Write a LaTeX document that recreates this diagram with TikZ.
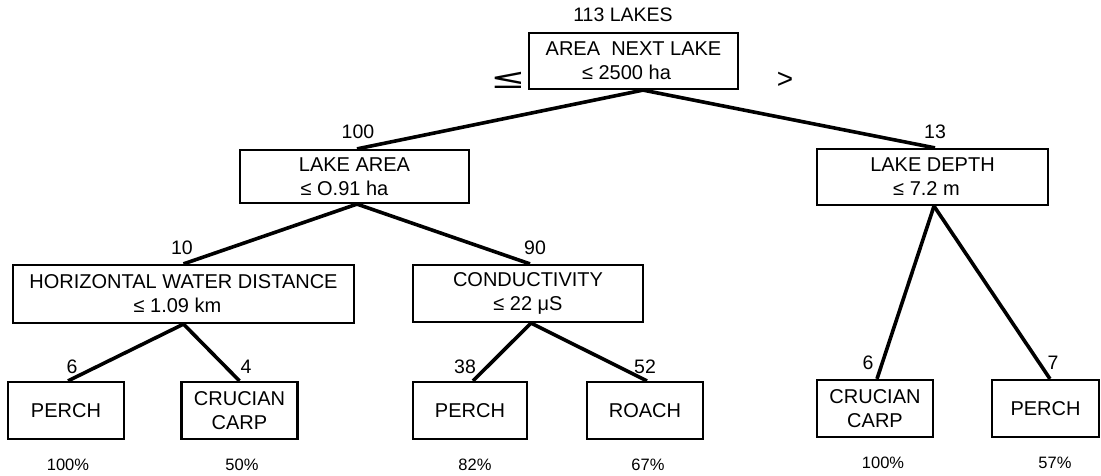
\documentclass[tikz,border=0pt]{standalone}
\usepackage{fontspec}
\usepackage{graphicx}
\setmainfont{Liberation Sans}
\newfontfamily\symfont{DejaVu Sans}
\usetikzlibrary{calc}
\newcommand\boxfont{\fontsize{20}{24}\selectfont}
\newcommand\cntfont{\fontsize{19.5}{23}\selectfont}
\newcommand\pctfont{\fontsize{16.5}{20}\selectfont}
\begin{document}
\begin{tikzpicture}[x=1pt,y=-1pt,
  box/.style={draw, line width=2.2pt, inner sep=0pt, align=center, font=\boxfont},
  leaf/.style={box, minimum width=116pt, minimum height=57pt},
  link/.style={line width=3.6pt},
  cnt/.style={inner sep=0pt, font=\cntfont},
  pct/.style={inner sep=0pt, font=\pctfont}]
\useasboundingbox (0,0) rectangle (1101,476);

% decision boxes
\node[box, minimum width=209pt, minimum height=56pt] (root) at (633.5,61) {AREA\ \ NEXT LAKE\\\hspace*{-14pt}≤ 2500 ha};
\node[box, minimum width=229pt, minimum height=53pt] (lakearea) at (354.5,176.5) {LAKE AREA\\\hspace*{-20pt}≤ O.91 ha};
\node[box, minimum width=231pt, minimum height=56pt] (lakedepth) at (932.5,177) {LAKE DEPTH\\\hspace*{-12pt}≤ 7.2 m};
\node[box, minimum width=341pt, minimum height=58pt] (hwd) at (183.5,294) {HORIZONTAL WATER DISTANCE\\\hspace*{-12pt}≤ 1.09 km};
\node[box, minimum width=230pt, minimum height=57pt] (cond) at (528,293.5) {CONDUCTIVITY\\≤ 22 μS};

% leaves
\node[leaf] (perch1) at (66,410.5) {PERCH};
\node[leaf] (carp1) at (239.5,410.5) {CRUCIAN\\CARP};
\node[leaf, minimum width=114pt] (perch2) at (470,410.5) {PERCH};
\node[leaf] (roach) at (645,410.5) {ROACH};
\node[leaf] (carp2) at (875,408.5) {CRUCIAN\\CARP};
\node[leaf, minimum width=107pt] (perch3) at (1045.5,408.5) {PERCH};

% connectors
\draw[link] ($(root.south)+(9.5,0)$) -- ($(lakearea.north)+(2.5,0)$);
\draw[link] ($(root.south)+(9.5,0)$) -- ($(lakedepth.north)+(2.5,0)$);
\draw[link] ($(lakearea.south)+(2.5,0)$) -- (hwd.north);
\draw[link] ($(lakearea.south)+(2.5,0)$) -- ($(cond.north)+(2,0)$);
\draw[link] (hwd.south) -- ($(perch1.north)+(2,0)$);
\draw[link] (hwd.south) -- (carp1.north);
\draw[link] ($(cond.south)+(3,0)$) -- ($(perch2.north)+(3,0)$);
\draw[link] ($(cond.south)+(3,0)$) -- ($(roach.north)+(2,0)$);
\draw[link] ($(lakedepth.south)+(1.5,0)$) -- ($(carp2.north)+(2,0)$);
\draw[link] ($(lakedepth.south)+(1.5,0)$) -- ($(perch3.north)+(4.5,0)$);

% counts
\node[cnt] (n113) at (623,15) {113\ LAKES};
\node[cnt] (n100) at (358,132) {100};
\node[cnt] (n13) at (935,132) {13};
\node[cnt] (n10) at (182,248) {10};
\node[cnt] (n90) at (535,248) {90};
\node[cnt] (n6a) at (72,367) {6};
\node[cnt] (n4) at (246,367) {4};
\node[cnt] (n38) at (465,367) {38};
\node[cnt] (n52) at (645,367) {52};
\node[cnt] (n6b) at (868,363) {6};
\node[cnt] (n7) at (1053,363) {7};

% branch signs
\node[inner sep=0pt, font=\symfont\fontsize{28}{34}\selectfont] (le) at (508,80) {\scalebox{1.5}[1]{≤}};
\node[inner sep=0pt, font=\fontsize{28}{30}\selectfont] (gt) at (785,80) {>};

% percentages
\node[pct] (p1) at (68,465) {100\%};
\node[pct] (p2) at (242,465) {50\%};
\node[pct] (p3) at (475,465) {82\%};
\node[pct] (p4) at (648,465) {67\%};
\node[pct] (p5) at (883,463) {100\%};
\node[pct] (p6) at (1055,463) {57\%};
\end{tikzpicture}
\end{document}
